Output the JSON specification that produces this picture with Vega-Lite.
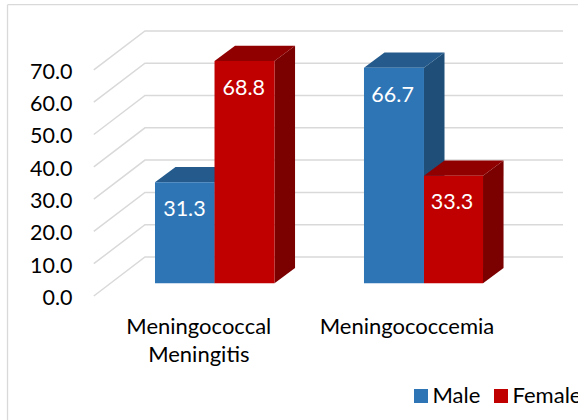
{"$schema":"https://vega.github.io/schema/vega-lite/v6.json","width":578,"height":420,"padding":0,"autosize":{"type":"none"},"background":"white","config":{"view":{"stroke":null},"font":"Lato"},
"datasets":{
"bars":[{"disease":"Meningococcal Meningitis","sex":"Male","value":31.3,"x0":1,"x1":1.992,"xc":1.49},{"disease":"Meningococcal Meningitis","sex":"Female","value":68.8,"x0":1.992,"x1":2.992,"xc":2.48},{"disease":"Meningococcemia","sex":"Male","value":66.7,"x0":4.483,"x1":5.483,"xc":4.96},{"disease":"Meningococcemia","sex":"Female","value":33.3,"x0":5.483,"x1":6.467,"xc":5.95}],
"faces":[
{"bar":"a","sex":"Male","face":"side","u":1.992,"lo":0,"hi":31.3},{"bar":"a","sex":"Male","face":"side","u":2.334,"lo":4.74,"hi":36.04},
{"bar":"a","sex":"Male","face":"top","u":1,"lo":31.3,"hi":31.3},{"bar":"a","sex":"Male","face":"top","u":1.342,"lo":31.3,"hi":36.04},{"bar":"a","sex":"Male","face":"top","u":1.992,"lo":31.3,"hi":36.04},{"bar":"a","sex":"Male","face":"top","u":2.334,"lo":36.04,"hi":36.04},
{"bar":"b","sex":"Female","face":"side","u":2.992,"lo":0,"hi":68.8},{"bar":"b","sex":"Female","face":"side","u":3.334,"lo":4.74,"hi":73.54},
{"bar":"b","sex":"Female","face":"top","u":1.992,"lo":68.8,"hi":68.8},{"bar":"b","sex":"Female","face":"top","u":2.334,"lo":68.8,"hi":73.54},{"bar":"b","sex":"Female","face":"top","u":2.992,"lo":68.8,"hi":73.54},{"bar":"b","sex":"Female","face":"top","u":3.334,"lo":73.54,"hi":73.54},
{"bar":"c","sex":"Male","face":"side","u":5.483,"lo":0,"hi":66.7},{"bar":"c","sex":"Male","face":"side","u":5.825,"lo":4.74,"hi":71.44},
{"bar":"c","sex":"Male","face":"top","u":4.483,"lo":66.7,"hi":66.7},{"bar":"c","sex":"Male","face":"top","u":4.825,"lo":66.7,"hi":71.44},{"bar":"c","sex":"Male","face":"top","u":5.483,"lo":66.7,"hi":71.44},{"bar":"c","sex":"Male","face":"top","u":5.825,"lo":71.44,"hi":71.44},
{"bar":"d","sex":"Female","face":"side","u":6.467,"lo":0,"hi":33.3},{"bar":"d","sex":"Female","face":"side","u":6.809,"lo":4.74,"hi":38.04},
{"bar":"d","sex":"Female","face":"top","u":5.483,"lo":33.3,"hi":33.3},{"bar":"d","sex":"Female","face":"top","u":5.825,"lo":33.3,"hi":38.04},{"bar":"d","sex":"Female","face":"top","u":6.467,"lo":33.3,"hi":38.04},{"bar":"d","sex":"Female","face":"top","u":6.809,"lo":38.04,"hi":38.04}],
"wall":[
{"t":0,"u":-0.02,"y":0},{"t":0,"u":0.833,"y":12.07},{"t":0,"u":7.8,"y":12.07},
{"t":10,"u":-0.02,"y":10},{"t":10,"u":0.833,"y":22.07},{"t":10,"u":7.8,"y":22.07},
{"t":20,"u":-0.02,"y":20},{"t":20,"u":0.833,"y":32.07},{"t":20,"u":7.8,"y":32.07},
{"t":30,"u":-0.02,"y":30},{"t":30,"u":0.833,"y":42.07},{"t":30,"u":7.8,"y":42.07},
{"t":40,"u":-0.02,"y":40},{"t":40,"u":0.833,"y":52.07},{"t":40,"u":7.8,"y":52.07},
{"t":50,"u":-0.02,"y":50},{"t":50,"u":0.833,"y":62.07},{"t":50,"u":7.8,"y":62.07},
{"t":60,"u":-0.02,"y":60},{"t":60,"u":0.833,"y":72.07},{"t":60,"u":7.8,"y":72.07},
{"t":70,"u":-0.02,"y":70},{"t":70,"u":0.833,"y":82.07},{"t":70,"u":7.8,"y":82.07}],
"cats":[{"label":"Meningococcal\nMeningitis","u":1.73,"y":-9.7},{"label":"Meningococcemia","u":5.2,"y":-9.7}],
"frameH":[{"a":-1.458,"b":8.05,"y":90.2}],
"frameV":[{"u":-1.458,"a":90.2,"b":-38.39}]
},
"layer":[
{"data":{"name":"frameH"},"mark":{"type":"rule","color":"#d9d9d9","strokeWidth":1.3},"encoding":{"x":{"field":"a","type":"quantitative","scale":{"domain":[-1.5833,8.05],"nice":false,"zero":false},"axis":null},"x2":{"field":"b"},"y":{"field":"y","type":"quantitative","scale":{"domain":[-38.39,91.64],"nice":false,"zero":false},"axis":{"orient":"left","offset":-72,"values":[0,10,20,30,40,50,60,70],"format":".1f","domain":false,"ticks":false,"grid":false,"title":null,"labelPadding":0,"labelOffset":2.5,"labelFont":"Lato","labelFontSize":21.5,"labelColor":"#000000"}}}},
{"data":{"name":"frameV"},"mark":{"type":"rule","color":"#d9d9d9","strokeWidth":1.3},"encoding":{"x":{"field":"u","type":"quantitative"},"y":{"field":"a","type":"quantitative"},"y2":{"field":"b"}}},
{"data":{"name":"wall"},"mark":{"type":"line","color":"#d9d9d9","strokeWidth":1.5,"interpolate":"linear"},"encoding":{"x":{"field":"u","type":"quantitative"},"y":{"field":"y","type":"quantitative"},"detail":{"field":"t"}}},
{"data":{"name":"cats"},"mark":{"type":"text","font":"Lato","fontSize":22,"color":"#000000","lineBreak":"\n","lineHeight":28,"align":"center","baseline":"middle"},"encoding":{"x":{"field":"u","type":"quantitative"},"y":{"field":"y","type":"quantitative"},"text":{"field":"label"}}},
{"data":{"name":"faces"},"transform":[{"filter":"datum.sex==='Male' && datum.face==='side'"}],"mark":{"type":"area","color":"#1f4e79","yOffset":-12.7,"y2Offset":-12.7},"encoding":{"x":{"field":"u","type":"quantitative"},"y":{"field":"hi","type":"quantitative"},"y2":{"field":"lo"},"detail":{"field":"bar"}}},
{"data":{"name":"faces"},"transform":[{"filter":"datum.sex==='Male' && datum.face==='top'"}],"mark":{"type":"area","color":"#245b8c","yOffset":-12.7,"y2Offset":-12.7},"encoding":{"x":{"field":"u","type":"quantitative"},"y":{"field":"hi","type":"quantitative"},"y2":{"field":"lo"},"detail":{"field":"bar"}}},
{"data":{"name":"bars"},"transform":[{"filter":"datum.sex==='Male'"}],"mark":{"type":"rect","yOffset":-12.7,"y2Offset":-12.7},"encoding":{"x":{"field":"x0","type":"quantitative"},"x2":{"field":"x1"},"y":{"field":"value","type":"quantitative"},"y2":{"datum":0},"color":{"field":"sex","type":"nominal","scale":{"domain":["Male","Female"],"range":["#2e75b6","#c00000"]},"legend":{"orient":"none","legendX":410,"legendY":385,"direction":"horizontal","columns":2,"title":null,"symbolType":"square","symbolSize":196,"symbolStrokeWidth":0,"labelFont":"Lato","labelFontSize":22,"labelColor":"#000000","columnPadding":9,"labelOffset":0.5}}}},
{"data":{"name":"faces"},"transform":[{"filter":"datum.sex==='Female' && datum.face==='side'"}],"mark":{"type":"area","color":"#7b0000","yOffset":-12.7,"y2Offset":-12.7},"encoding":{"x":{"field":"u","type":"quantitative"},"y":{"field":"hi","type":"quantitative"},"y2":{"field":"lo"},"detail":{"field":"bar"}}},
{"data":{"name":"faces"},"transform":[{"filter":"datum.sex==='Female' && datum.face==='top'"}],"mark":{"type":"area","color":"#900000","yOffset":-12.7,"y2Offset":-12.7},"encoding":{"x":{"field":"u","type":"quantitative"},"y":{"field":"hi","type":"quantitative"},"y2":{"field":"lo"},"detail":{"field":"bar"}}},
{"data":{"name":"bars"},"transform":[{"filter":"datum.sex==='Female'"}],"mark":{"type":"rect","yOffset":-12.7,"y2Offset":-12.7},"encoding":{"x":{"field":"x0","type":"quantitative"},"x2":{"field":"x1"},"y":{"field":"value","type":"quantitative"},"y2":{"datum":0},"color":{"field":"sex","type":"nominal"}}},
{"data":{"name":"bars"},"mark":{"type":"text","font":"Lato","fontSize":21.5,"color":"#ffffff","align":"center","baseline":"middle","yOffset":15},"encoding":{"x":{"field":"xc","type":"quantitative"},"y":{"field":"value","type":"quantitative"},"text":{"field":"value","type":"quantitative","format":".1f"}}}
]}
